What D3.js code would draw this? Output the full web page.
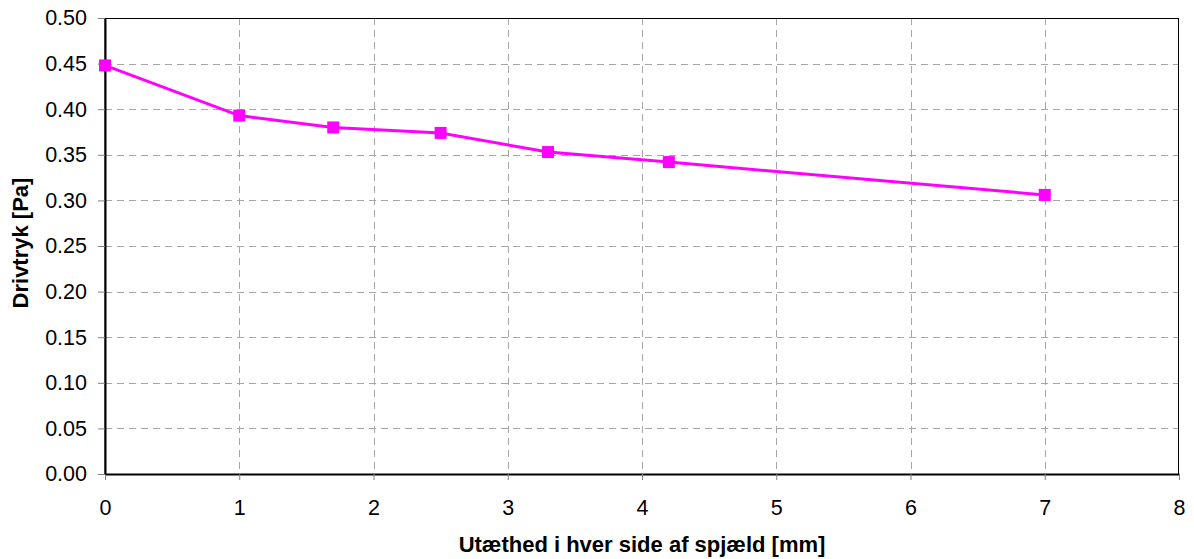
<!DOCTYPE html>
<html><head><meta charset="utf-8">
<script src="https://cdn.jsdelivr.net/npm/d3@7"></script>
<style>body{margin:0;background:#fff}svg{display:block}text{font-family:"Liberation Sans",Arial,sans-serif}</style>
</head><body>
<svg id="c" width="1194" height="559"></svg>
<script>
const xValues = [0, 1, 1.7, 2.5, 3.3, 4.2, 7];
const yValues = [0.448, 0.393, 0.380, 0.374, 0.353, 0.342, 0.306];
const xTicks = [0, 1, 2, 3, 4, 5, 6, 7, 8];
const yTicks = [0, 0.05, 0.10, 0.15, 0.20, 0.25, 0.30, 0.35, 0.40, 0.45, 0.50];
const xTitle = "Utæthed i hver side af spjæld [mm]";
const yTitle = "Drivtryk [Pa]";

const svg = d3.select("#c");
const L = 105, R = 1179, T = 18, B = 474;
const x = d3.scaleLinear().domain([0, 8]).range([L, R]);
const y = d3.scaleLinear().domain([0, 0.5]).range([B, T]);

// grid
const g = svg.append("g");
g.selectAll(".hg").data(yTicks.slice(1, -1)).enter().append("line")
  .attr("x1", L).attr("x2", R).attr("y1", d => Math.round(y(d)) + 0.5).attr("y2", d => Math.round(y(d)) + 0.5)
  .attr("stroke", "#a6a6a6").attr("stroke-width", 1).attr("stroke-dasharray", "7,5");
g.selectAll(".vg").data(xTicks.slice(1, -1)).enter().append("line")
  .attr("y1", T).attr("y2", B).attr("x1", d => Math.round(x(d)) + 0.5).attr("x2", d => Math.round(x(d)) + 0.5)
  .attr("stroke", "#a6a6a6").attr("stroke-width", 1).attr("stroke-dasharray", "7,5");

// border
svg.append("rect").attr("x", L).attr("y", T + 0.5).attr("width", R - L - 0.5).attr("height", B - T)
  .attr("fill", "none").attr("stroke", "#000").attr("stroke-width", 1);

// axes
const xAxis = d3.axisBottom(x).tickValues(xTicks).tickFormat(d3.format("d")).tickSizeInner(6).tickSizeOuter(0).tickPadding(20);
const yAxis = d3.axisLeft(y).tickValues(yTicks).tickFormat(d3.format(".2f")).tickSizeInner(7).tickSizeOuter(0).tickPadding(11);
const gx = svg.append("g").attr("transform", `translate(0,${B})`).call(xAxis);
const gy = svg.append("g").attr("transform", `translate(${L},0)`).call(yAxis);
[gx, gy].forEach(a => {
  a.select(".domain").attr("stroke", "#000").attr("stroke-width", 2);
  a.selectAll(".tick line").attr("stroke", "#808080");
  a.selectAll(".tick text").attr("font-size", 21.5).attr("fill", "#000")
    .attr("font-family", '"Liberation Sans",Arial,sans-serif');
});

// line
svg.append("path").datum(xValues.map((d, i) => [d, yValues[i]]))
  .attr("d", d3.line().x(d => x(d[0])).y(d => y(d[1])))
  .attr("fill", "none").attr("stroke", "#ff00ff").attr("stroke-width", 3);
svg.selectAll(".m").data(xValues.map((d, i) => [d, yValues[i]])).enter().append("rect")
  .attr("x", d => x(d[0]) - 6).attr("y", d => y(d[1]) - 6).attr("width", 12).attr("height", 12)
  .attr("fill", "#ff00ff");

// titles
svg.append("text").attr("x", 642).attr("y", 552).attr("text-anchor", "middle")
  .attr("font-size", 22).attr("font-weight", "bold").text(xTitle);
svg.append("text").attr("transform", `translate(28,243) rotate(-90)`).attr("text-anchor", "middle")
  .attr("font-size", 22).attr("font-weight", "bold").text(yTitle);
</script>
</body></html>
